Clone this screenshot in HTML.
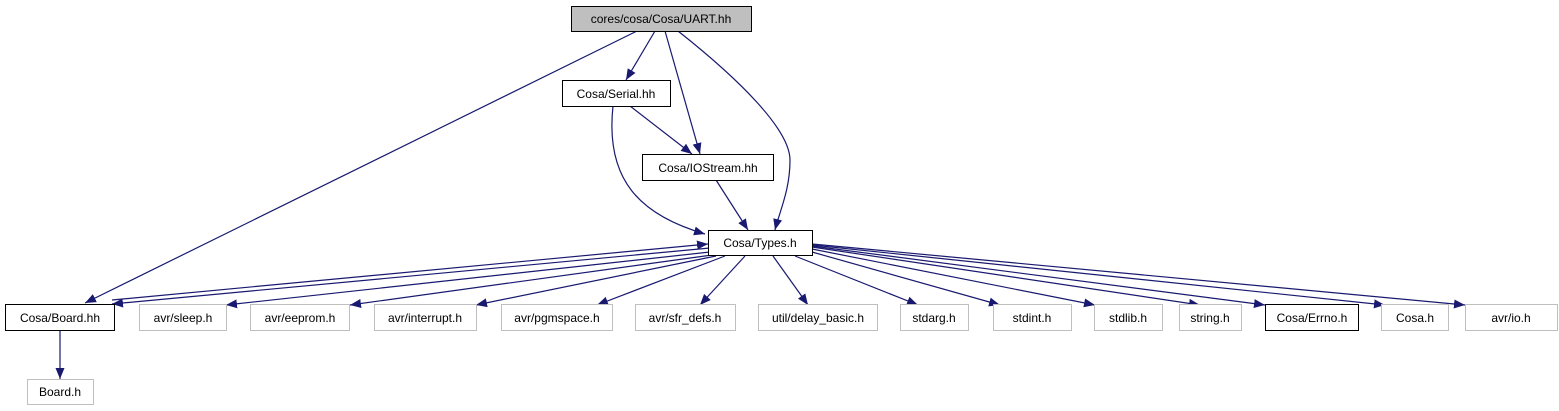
<!DOCTYPE html>
<html><head><meta charset="utf-8"><style>
body{margin:0;background:#fff;}
svg{display:block;}
text{font-family:"Liberation Sans",Arial,sans-serif;font-size:12px;fill:#000;}
</style></head><body>
<svg width="1559" height="411" viewBox="0 0 1559 411" xmlns="http://www.w3.org/2000/svg">
<defs>
<marker id="a" viewBox="0 0 11 10" refX="11" refY="5" markerWidth="11" markerHeight="10" markerUnits="userSpaceOnUse" orient="auto">
<path d="M0,0.5 L11,5 L0,9.5 z" fill="#191970"/>
</marker>
</defs>
<g fill="none" stroke="#191970" stroke-width="1.2" marker-end="url(#a)">
<path d="M637,31 L85,303"/>
<path d="M655,31 L626,80"/>
<path d="M665,31 L700,154"/>
<path d="M678,31 C740,80 790,130 790,160 C790,190 780,210 775,230"/>
<path d="M630,106 L692,154"/>
<path d="M613,106 C605,180 640,215 705,234"/>
<path d="M716,180 L748,230"/>
<path d="M60,330 L60,379"/>
<path d="M112,300 L708,244"/>
<path d="M710,248 L112,304"/>
<path d="M710,252 L226,305"/>
<path d="M712,255 L350,305"/>
<path d="M716,256 L476,305"/>
<path d="M725,256 L597,305"/>
<path d="M745,256 L700,305"/>
<path d="M773,256 L808,305"/>
<path d="M795,256 L918,305"/>
<path d="M812,252 L1000,305"/>
<path d="M812,249 L1095,305"/>
<path d="M812,247 L1200,305"/>
<path d="M812,246 L1265,305"/>
<path d="M812,245 L1385,305"/>
<path d="M812,244 L1465,305"/>
</g>
<g stroke-width="1">
<rect x="571.5" y="6.5" width="180" height="25" fill="#bfbfbf" stroke="#000"/>
<rect x="562.5" y="80.5" width="108" height="26" fill="#fff" stroke="#000"/>
<rect x="642.5" y="154.5" width="131" height="26" fill="#fff" stroke="#000"/>
<rect x="708.5" y="230.5" width="104" height="25" fill="#fff" stroke="#000"/>
<rect x="5.5" y="304.5" width="109" height="26" fill="#fff" stroke="#000"/>
<rect x="1265.5" y="304.5" width="93" height="26" fill="#fff" stroke="#000"/>
<g fill="#fff" stroke="#bfbfbf">
<rect x="27.5" y="379.5" width="66" height="25"/>
<rect x="139.5" y="304.5" width="87" height="26"/>
<rect x="250.5" y="304.5" width="99" height="26"/>
<rect x="374.5" y="304.5" width="102" height="26"/>
<rect x="501.5" y="304.5" width="111" height="26"/>
<rect x="635.5" y="304.5" width="100" height="26"/>
<rect x="758.5" y="304.5" width="119" height="26"/>
<rect x="900.5" y="304.5" width="68" height="26"/>
<rect x="993.5" y="304.5" width="78" height="26"/>
<rect x="1094.5" y="304.5" width="68" height="26"/>
<rect x="1179.5" y="304.5" width="62" height="26"/>
<rect x="1381.5" y="304.5" width="67" height="26"/>
<rect x="1465.5" y="304.5" width="92" height="26"/>
</g>
</g>
<g text-anchor="middle">
<text x="661" y="23">cores/cosa/Cosa/UART.hh</text>
<text x="616" y="98">Cosa/Serial.hh</text>
<text x="708" y="172">Cosa/IOStream.hh</text>
<text x="760" y="247">Cosa/Types.h</text>
<text x="60" y="322">Cosa/Board.hh</text>
<text x="60" y="396">Board.h</text>
<text x="183" y="322">avr/sleep.h</text>
<text x="300" y="322">avr/eeprom.h</text>
<text x="425" y="322">avr/interrupt.h</text>
<text x="557" y="322">avr/pgmspace.h</text>
<text x="685" y="322">avr/sfr_defs.h</text>
<text x="818" y="322">util/delay_basic.h</text>
<text x="934" y="322">stdarg.h</text>
<text x="1032" y="322">stdint.h</text>
<text x="1128" y="322">stdlib.h</text>
<text x="1210" y="322">string.h</text>
<text x="1312" y="322">Cosa/Errno.h</text>
<text x="1415" y="322">Cosa.h</text>
<text x="1511" y="322">avr/io.h</text>
</g>
</svg>
</body></html>
